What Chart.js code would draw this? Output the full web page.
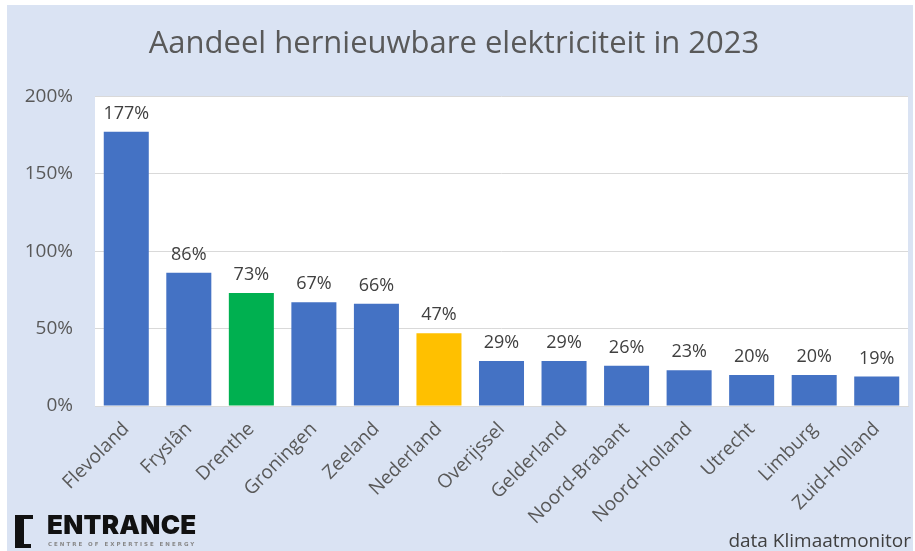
<!DOCTYPE html>
<html>
<head>
<meta charset="utf-8">
<script src="https://cdn.jsdelivr.net/npm/chart.js@4"></script>
<style>
  html, body { margin: 0; padding: 0; background: #fff; }
  #wrap { position: relative; width: 915px; height: 551px; }
  #chart { position: absolute; left: 0; top: 0; }
  .logo-bar { position: absolute; background: #111; }
  #brand { position: absolute; left: 47px; top: 509px; font-family: Inter, "DejaVu Sans", sans-serif;
           font-weight: 900; font-size: 26px; color: #111; letter-spacing: 0.3px; }
  #brand-sub { position: absolute; left: 48px; top: 541px; font-family: "DejaVu Sans", sans-serif;
               font-size: 5.5px; color: #888; letter-spacing: 2px; font-weight: bold; }
  #source { position: absolute; right: 4px; top: 527px; font-family: "Open Sans", sans-serif;
            font-size: 19px; color: #404040; }
</style>
</head>
<body>
<div id="wrap">
  <canvas id="chart" width="915" height="551"></canvas>
  <div class="logo-bar" style="left:15px; top:515px; width:9px; height:33px;"></div>
  <div class="logo-bar" style="left:15px; top:515px; width:18px; height:4px;"></div>
  <div class="logo-bar" style="left:15px; top:544px; width:16px; height:4px;"></div>
  <div id="brand">ENTRANCE</div>
  <div id="brand-sub">CENTRE OF EXPERTISE ENERGY</div>
  <div id="source">data Klimaatmonitor</div>
</div>
<script>
// gegevens
const regions = ['Flevoland', 'Fryslân', 'Drenthe', 'Groningen', 'Zeeland', 'Nederland',
  'Overijssel', 'Gelderland', 'Noord-Brabant', 'Noord-Holland', 'Utrecht', 'Limburg', 'Zuid-Holland'];
const shares = [177, 86, 73, 67, 66, 47, 29, 29, 26, 23, 20, 20, 19];
const barColors = ['#4472C4', '#4472C4', '#00B050', '#4472C4', '#4472C4', '#FFC000',
  '#4472C4', '#4472C4', '#4472C4', '#4472C4', '#4472C4', '#4472C4', '#4472C4'];
const yTicks = [0, 50, 100, 150, 200];

const FONT = '"Open Sans", sans-serif';

// achtergrond: witte rand, lichtblauw vlak, wit plotgebied
const backgroundPlugin = {
  id: 'background',
  beforeDraw(chart) {
    const ctx = chart.ctx;
    const a = chart.chartArea;
    ctx.save();
    ctx.fillStyle = '#ffffff';
    ctx.fillRect(0, 0, chart.width, chart.height);
    ctx.fillStyle = '#DAE3F3';
    ctx.fillRect(7, 5, chart.width - 9, chart.height - 5);
    ctx.fillStyle = '#ffffff';
    ctx.fillRect(a.left, a.top, a.right - a.left, a.bottom - a.top);
    ctx.restore();
  }
};

// percentages boven de staven
const valueLabels = {
  id: 'valueLabels',
  afterDatasetsDraw(chart) {
    const ctx = chart.ctx;
    const meta = chart.getDatasetMeta(0);
    ctx.save();
    ctx.font = '18px ' + FONT;
    ctx.fillStyle = '#404040';
    ctx.textAlign = 'center';
    ctx.textBaseline = 'bottom';
    meta.data.forEach((bar, i) => {
      ctx.fillText(shares[i] + '%', bar.x, bar.y - 9);
    });
    ctx.restore();
  }
};

new Chart(document.getElementById('chart'), {
  type: 'bar',
  data: {
    labels: regions,
    datasets: [{
      data: shares,
      backgroundColor: barColors,
      categoryPercentage: 1,
      barPercentage: 0.72
    }]
  },
  options: {
    responsive: false,
    animation: false,
    layout: { padding: { left: 0, right: 7, top: 0, bottom: 0 } },
    plugins: {
      legend: { display: false },
      tooltip: { enabled: false },
      title: {
        display: true,
        text: 'Aandeel hernieuwbare elektriciteit in 2023',
        color: '#595959',
        font: { family: FONT, size: 31, weight: 'normal', lineHeight: 1.2 },
        padding: { top: 26, bottom: 33 }
      }
    },
    scales: {
      x: {
        grid: { display: false },
        border: { color: '#D9D9D9' },
        ticks: {
          color: '#595959',
          font: { family: FONT, size: 19 },
          maxRotation: 45,
          minRotation: 45,
          padding: 4,
          autoSkip: false
        },
        afterFit(scale) { scale.height = 145; }
      },
      y: {
        min: 0,
        max: 200,
        afterBuildTicks(scale) { scale.ticks = yTicks.map(v => ({ value: v })); },
        grid: { color: '#D9D9D9', drawTicks: false },
        border: { display: false },
        ticks: {
          color: '#595959',
          font: { family: FONT, size: 19 },
          padding: 22,
          callback: v => v + '%'
        },
        afterFit(scale) { scale.width = 95; }
      }
    }
  },
  plugins: [backgroundPlugin, valueLabels]
});
</script>
</body>
</html>
